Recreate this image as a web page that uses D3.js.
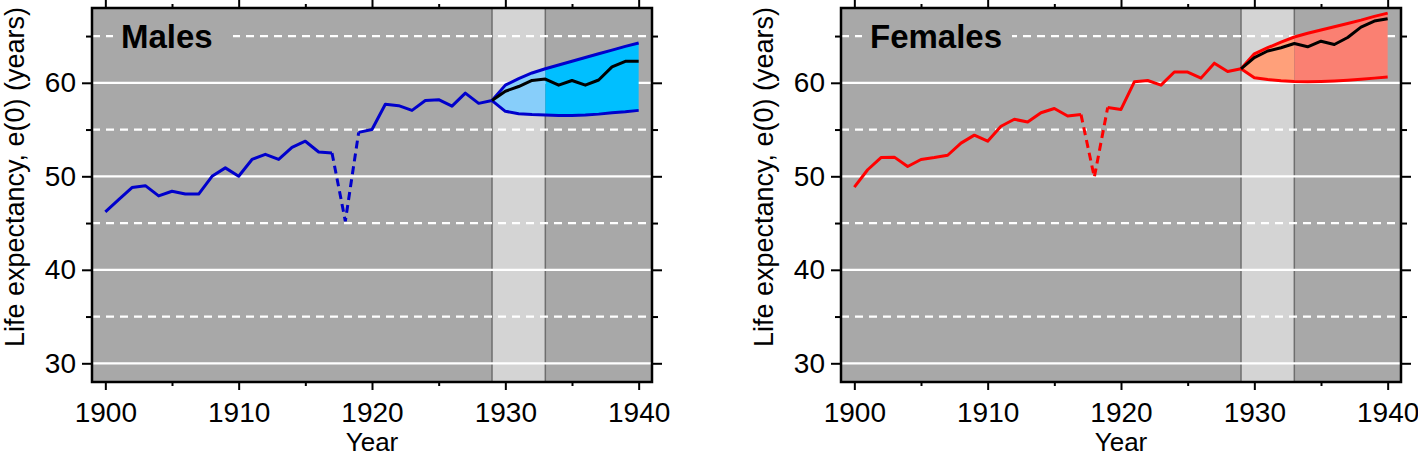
<!DOCTYPE html>
<html><head><meta charset="utf-8">
<script src="https://cdn.jsdelivr.net/npm/d3@7"></script>
<style>
body{margin:0;background:#fff;}
svg{display:block;font-family:"Liberation Sans",Arial,Helvetica,sans-serif;}
</style></head>
<body><svg id="chart" width="1418" height="456"></svg>
<script>
// ---------- data ----------
const obsYears = [1900,1901,1902,1903,1904,1905,1906,1907,1908,1909,1910,1911,1912,1913,1914,1915,1916,1917,1918,1919,1920,1921,1922,1923,1924,1925,1926,1927,1928,1929];
const maleObs = [46.2,47.5,48.8,49.0,47.9,48.4,48.1,48.1,50.0,50.9,50.0,51.8,52.35,51.8,53.1,53.75,52.6,52.5,45.2,54.7,55.0,57.7,57.55,57.05,58.1,58.2,57.5,58.9,57.8,58.1];
const femaleObs = [48.85,50.7,52.0,52.05,51.05,51.8,52.0,52.25,53.55,54.4,53.75,55.35,56.1,55.8,56.8,57.25,56.45,56.6,49.9,57.35,57.15,60.1,60.25,59.75,61.15,61.15,60.5,62.1,61.2,61.5];
const fcYears = [1929,1930,1931,1932,1933,1934,1935,1936,1937,1938,1939,1940];
const maleMedian = [58.1,59.1,59.6,60.25,60.4,59.75,60.25,59.75,60.3,61.7,62.3,62.3];
const maleUpper  = [58.1,59.75,60.45,61.05,61.5,61.9,62.3,62.7,63.1,63.5,63.9,64.25];
const maleLower  = [58.1,56.95,56.7,56.6,56.55,56.5,56.5,56.55,56.65,56.8,56.9,57.05];
const femaleMedian = [61.5,62.7,63.4,63.75,64.2,63.85,64.45,64.1,64.85,65.95,66.6,66.85];
const femaleUpper  = [61.5,63.1,63.75,64.35,64.9,65.3,65.65,66.0,66.35,66.7,67.1,67.45];
const femaleLower  = [61.5,60.55,60.35,60.22,60.15,60.12,60.15,60.2,60.28,60.38,60.5,60.62];
const warYears = [1917,1918,1919];           // dashed segment
const jumpOffStart = 1929, jumpOffEnd = 1933; // highlighted band
const yMajor = [30,40,50,60], yMinor = [35,45,55,65];
const xMajor = [1900,1910,1920,1930,1940], xMinor = [1905,1915,1925,1935];
const panelTitles = ["Males","Females"];
const yTitle = "Life expectancy, e(0) (years)", xTitle = "Year";

// ---------- layout ----------
const svg = d3.select("#chart");
const panels = [
  {left:92, obs:maleObs, med:maleMedian, up:maleUpper, lo:maleLower, line:"#0000cc", fillIn:"#87cefa", fillOut:"#00bfff", title:panelTitles[0], boxW:120},
  {left:841, obs:femaleObs, med:femaleMedian, up:femaleUpper, lo:femaleLower, line:"#ff0000", fillIn:"#ffa07a", fillOut:"#fa8072", title:panelTitles[1], boxW:150}
];
const W = 560, pTop = 8, pBottom = 382;
const bg = "#a8a8a8";

panels.forEach((p, i) => {
  const x = d3.scaleLinear().domain([1899, 1941]).range([p.left, p.left + W]);
  const y = d3.scaleLinear().domain([28, 68]).range([pBottom, pTop]);
  const g = svg.append("g");
  const cid = "clip" + i;
  const defs = svg.append("defs");
  defs.append("clipPath").attr("id", cid).append("rect")
    .attr("x", p.left).attr("y", pTop).attr("width", W).attr("height", pBottom - pTop);
  defs.append("clipPath").attr("id", cid + "in").append("rect")
    .attr("x", x(jumpOffStart)).attr("y", pTop).attr("width", x(jumpOffEnd) - x(jumpOffStart)).attr("height", pBottom - pTop);
  defs.append("clipPath").attr("id", cid + "out").append("rect")
    .attr("x", x(jumpOffEnd)).attr("y", pTop).attr("width", p.left + W - x(jumpOffEnd)).attr("height", pBottom - pTop);

  const inner = g.append("g").attr("clip-path", `url(#${cid})`);
  inner.append("rect").attr("x", p.left).attr("y", pTop).attr("width", W).attr("height", pBottom - pTop).attr("fill", bg);
  inner.append("rect").attr("x", x(jumpOffStart)).attr("y", pTop)
    .attr("width", x(jumpOffEnd) - x(jumpOffStart)).attr("height", pBottom - pTop).attr("fill", "#d4d4d4");
  inner.selectAll("line.band").data([jumpOffStart, jumpOffEnd]).enter().append("line")
    .attr("x1", d => x(d)).attr("x2", d => x(d)).attr("y1", pTop).attr("y2", pBottom)
    .attr("stroke", "#6e6e6e").attr("stroke-width", 1.5);
  // grid
  inner.selectAll("line.gmaj").data(yMajor).enter().append("line")
    .attr("x1", p.left).attr("x2", p.left + W).attr("y1", d => y(d)).attr("y2", d => y(d))
    .attr("stroke", "#fff").attr("stroke-width", 2.2);
  inner.selectAll("line.gmin").data(yMinor).enter().append("line")
    .attr("x1", p.left).attr("x2", p.left + W).attr("y1", d => y(d)).attr("y2", d => y(d))
    .attr("stroke", "#fff").attr("stroke-width", 2.2).attr("stroke-dasharray", "8,6");

  // forecast band
  const band = fcYears.map((yr, k) => ({yr, lo: p.lo[k], up: p.up[k]}));
  const area = d3.area().x(d => x(d.yr)).y0(d => y(d.lo)).y1(d => y(d.up));
  inner.append("path").datum(band).attr("d", area).attr("fill", p.fillIn).attr("clip-path", `url(#${cid}in)`);
  inner.append("path").datum(band).attr("d", area).attr("fill", p.fillOut).attr("clip-path", `url(#${cid}out)`);

  const line = d3.line().x(d => x(d.yr)).y(d => y(d.v));
  const obs = obsYears.map((yr, k) => ({yr, v: p.obs[k]}));
  const seg1 = obs.filter(d => d.yr <= warYears[0]);
  const seg2 = obs.filter(d => d.yr >= warYears[0] && d.yr <= warYears[2]);
  const seg3 = obs.filter(d => d.yr >= warYears[2]);
  const lw = 3;
  [seg1, seg3].forEach(s => inner.append("path").datum(s).attr("d", line)
    .attr("fill", "none").attr("stroke", p.line).attr("stroke-width", lw).attr("stroke-linejoin", "round"));
  inner.append("path").datum(seg2).attr("d", line).attr("fill", "none").attr("stroke", p.line)
    .attr("stroke-width", lw).attr("stroke-dasharray", "8,5");
  [p.up, p.lo].forEach(arr => inner.append("path")
    .datum(fcYears.map((yr, k) => ({yr, v: arr[k]}))).attr("d", line)
    .attr("fill", "none").attr("stroke", p.line).attr("stroke-width", lw).attr("stroke-linejoin", "round"));
  inner.append("path").datum(fcYears.map((yr, k) => ({yr, v: p.med[k]}))).attr("d", line)
    .attr("fill", "none").attr("stroke", "#000").attr("stroke-width", lw).attr("stroke-linejoin", "round");

  // title with background box
  inner.append("rect").attr("x", p.left + 21).attr("y", 16).attr("width", p.boxW).attr("height", 40).attr("fill", bg);
  g.append("text").attr("x", p.left + 29).attr("y", 48).text(p.title)
    .attr("font-size", 33).attr("font-weight", "bold").attr("fill", "#000");

  // axes
  const axStyle = a => { a.select(".domain").remove(); a.selectAll("line").attr("stroke", "#000").attr("stroke-width", 2); };
  const bx = g.append("g").attr("transform", `translate(0,${pBottom})`)
    .call(d3.axisBottom(x).tickValues(xMajor).tickSize(8).tickPadding(12).tickFormat(d3.format("d")));
  axStyle(bx);
  bx.selectAll("text").attr("font-size", 28).attr("fill", "#000").attr("font-family", null);
  axStyle(g.append("g").attr("transform", `translate(0,${pBottom})`)
    .call(d3.axisBottom(x).tickValues(xMinor).tickSize(4).tickFormat("")));
  axStyle(g.append("g").attr("transform", `translate(0,${pTop})`)
    .call(d3.axisTop(x).tickValues(xMajor).tickSize(8).tickFormat("")));
  axStyle(g.append("g").attr("transform", `translate(0,${pTop})`)
    .call(d3.axisTop(x).tickValues(xMinor).tickSize(4).tickFormat("")));
  const ly = g.append("g").attr("transform", `translate(${p.left},0)`)
    .call(d3.axisLeft(y).tickValues(yMajor).tickSize(10).tickPadding(6));
  axStyle(ly);
  ly.selectAll("text").attr("font-size", 28).attr("fill", "#000").attr("font-family", null);
  axStyle(g.append("g").attr("transform", `translate(${p.left},0)`)
    .call(d3.axisLeft(y).tickValues(yMinor).tickSize(6).tickFormat("")));
  axStyle(g.append("g").attr("transform", `translate(${p.left + W},0)`)
    .call(d3.axisRight(y).tickValues(yMajor).tickSize(10).tickFormat("")));
  axStyle(g.append("g").attr("transform", `translate(${p.left + W},0)`)
    .call(d3.axisRight(y).tickValues(yMinor).tickSize(6).tickFormat("")));

  // frame
  g.append("rect").attr("x", p.left).attr("y", pTop).attr("width", W).attr("height", pBottom - pTop)
    .attr("fill", "none").attr("stroke", "#000").attr("stroke-width", 2.5);

  // titles
  g.append("text").attr("transform", `translate(${p.left - 68},177) rotate(-90)`)
    .attr("text-anchor", "middle").attr("font-size", 27).attr("fill", "#000").text(yTitle);
  g.append("text").attr("x", p.left + W / 2).attr("y", 451)
    .attr("text-anchor", "middle").attr("font-size", 26).attr("fill", "#000").text(xTitle);
});
</script></body></html>
